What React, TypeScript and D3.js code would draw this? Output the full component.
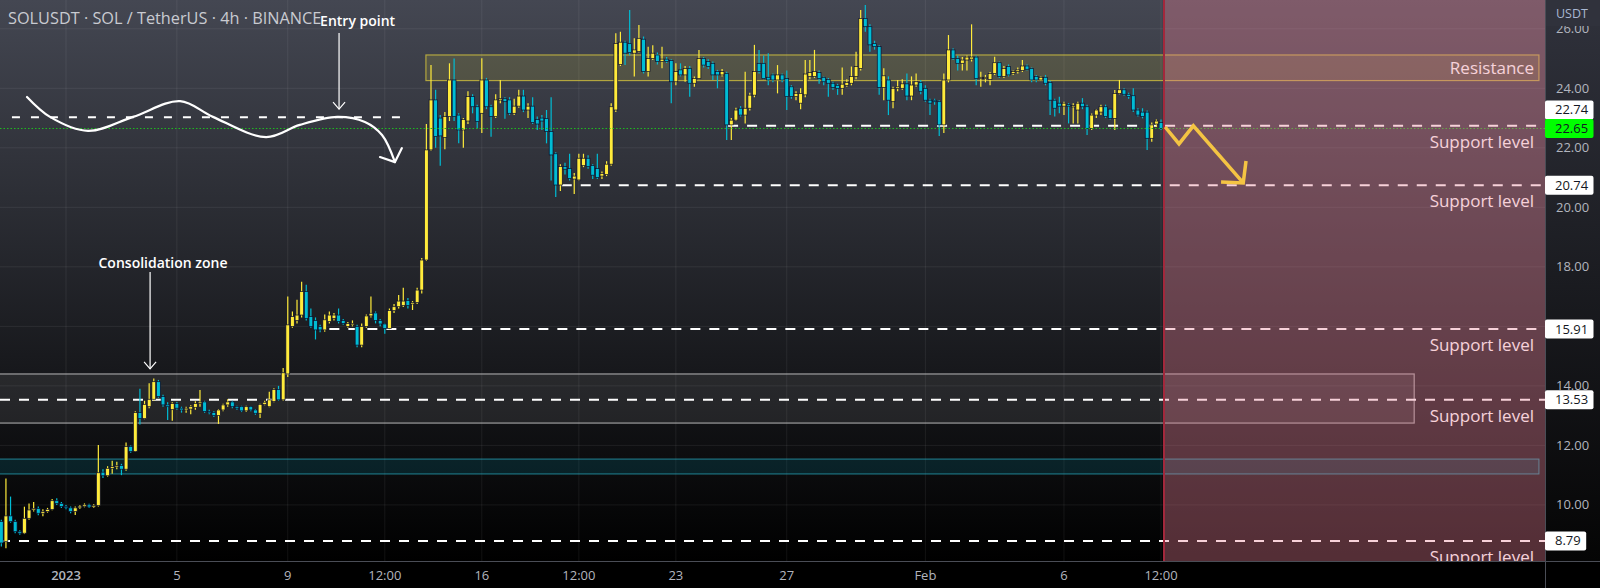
import React from 'react';
import * as d3 from 'd3';

type Bar = [number, number, number, number]; // open, high, low, close

// 4h candles, first bar opens 2022-12-29 16:00 UTC
const firstBarTime = Date.UTC(2022, 11, 29, 16);
const barMs = 4 * 3600 * 1000;

const barsDec29toJan4: Bar[] = [
  [9.44, 9.5, 8.6, 8.72], [8.77, 10.89, 8.54, 9.63], [9.63, 10.28, 9.4, 9.44], [9.44, 9.5, 9.05, 9.1],
  [9.1, 9.15, 9.0, 9.05], [9.05, 9.94, 9.02, 9.55], [9.55, 10.05, 9.5, 9.83], [9.83, 10.1, 9.78, 9.88],
  [9.88, 9.95, 9.65, 9.72], [9.72, 9.85, 9.62, 9.78], [9.78, 9.9, 9.74, 9.85], [9.85, 10.2, 9.82, 10.14],
  [10.14, 10.22, 10.0, 10.05], [10.05, 10.1, 9.9, 9.95], [9.95, 10.0, 9.85, 9.9], [9.9, 9.95, 9.72, 9.78],
  [9.78, 9.95, 9.66, 9.9], [9.9, 10.0, 9.86, 9.96], [9.96, 10.05, 9.92, 10.0], [10.0, 10.04, 9.9, 9.93],
  [9.93, 10.02, 9.9, 9.98], [9.98, 12.01, 9.95, 11.08], [11.1, 11.2, 10.9, 10.98], [10.98, 11.3, 10.95, 11.23],
  [11.23, 11.48, 11.05, 11.29], [11.29, 11.45, 11.2, 11.32], [11.32, 11.38, 11.0, 11.2], [11.2, 12.1, 11.15, 11.96],
  [11.96, 12.0, 11.75, 11.8], [11.8, 13.15, 11.78, 13.1], [13.1, 13.9, 12.7, 12.9], [12.9, 13.5, 12.88, 13.38],
  [13.3, 14.09, 13.25, 13.55], [13.55, 14.25, 13.5, 14.14], [14.14, 14.2, 13.6, 13.64], [13.64, 13.7, 13.3, 13.36],
  [13.36, 13.45, 12.85, 13.3], [13.2, 13.45, 12.83, 13.41],
];

const barsJan5toJan11: Bar[] = [
  [13.41, 13.46, 13.2, 13.25], [13.25, 13.3, 13.1, 13.19], [13.19, 13.3, 13.1, 13.25], [13.22, 13.35, 13.05, 13.3],
  [13.28, 13.48, 13.2, 13.41], [13.41, 13.86, 13.3, 13.46], [13.46, 13.5, 13.1, 13.14], [13.14, 13.2, 13.05, 13.1],
  [13.1, 13.15, 12.95, 13.0], [13.0, 13.22, 12.72, 13.19], [13.19, 13.4, 13.15, 13.36], [13.36, 13.55, 13.3, 13.46],
  [13.46, 13.5, 13.25, 13.3], [13.3, 13.33, 13.2, 13.25], [13.3, 13.33, 13.12, 13.16], [13.16, 13.33, 13.12, 13.3],
  [13.3, 13.32, 13.15, 13.19], [13.19, 13.22, 13.03, 13.08], [13.08, 13.4, 12.92, 13.38], [13.38, 13.5, 13.35, 13.45],
  [13.3, 13.8, 13.28, 13.53], [13.48, 13.92, 13.45, 13.88], [13.88, 14.0, 13.5, 13.53], [13.53, 14.6, 13.5, 14.44],
  [14.4, 17.0, 14.3, 16.05], [16.0, 16.5, 15.95, 16.33], [16.2, 16.89, 16.1, 16.38], [16.38, 17.5, 16.3, 17.17],
  [17.17, 17.4, 16.2, 16.27], [16.33, 16.6, 15.95, 15.99], [16.2, 16.3, 15.56, 15.88], [15.99, 16.05, 15.8, 15.88],
  [15.88, 16.4, 15.82, 16.22], [16.16, 16.5, 16.1, 16.38], [16.27, 16.45, 16.2, 16.38], [16.38, 16.6, 16.1, 16.16],
  [16.2, 16.25, 16.05, 16.1], [16.0, 16.15, 15.95, 16.1], [16.05, 16.2, 16.0, 16.1], [16.0, 16.05, 15.3, 15.37],
  [15.37, 16.1, 15.3, 16.0], [16.0, 16.4, 15.95, 16.35],
];

const barsJan12toJan18: Bar[] = [
  [16.35, 17.0, 16.3, 16.44], [16.45, 16.5, 16.1, 16.2], [16.2, 16.25, 16.0, 16.08], [16.08, 16.1, 15.75, 15.93],
  [15.93, 16.6, 15.9, 16.53], [16.53, 16.75, 16.45, 16.66], [16.66, 17.05, 16.6, 16.85], [16.7, 17.3, 16.65, 16.85],
  [16.87, 16.95, 16.6, 16.7], [16.75, 16.85, 16.55, 16.8], [16.8, 17.3, 16.75, 17.22], [17.22, 18.3, 17.1, 18.23],
  [18.23, 22.8, 18.2, 21.93], [21.93, 24.78, 21.9, 23.61], [23.61, 23.95, 22.0, 22.38], [23.0, 23.1, 21.4, 22.4],
  [22.35, 23.2, 21.95, 23.05], [23.05, 24.84, 22.9, 24.28], [24.28, 25.0, 22.9, 23.05], [23.1, 23.16, 22.15, 22.6],
  [22.6, 23.0, 22.0, 22.95], [22.9, 23.9, 22.8, 23.72], [23.72, 23.8, 23.16, 23.38], [23.38, 23.45, 22.65, 22.88],
  [23.16, 25.01, 22.5, 24.28], [24.28, 24.35, 23.3, 23.38], [23.38, 23.45, 22.37, 23.05], [23.05, 23.8, 23.0, 23.61],
  [23.61, 24.28, 23.5, 23.65], [23.65, 23.7, 22.98, 23.55], [23.61, 23.7, 23.1, 23.16], [23.16, 23.65, 23.1, 23.4],
  [23.4, 23.95, 23.35, 23.74], [23.74, 23.95, 23.2, 23.27], [23.27, 23.5, 23.0, 23.4], [23.4, 23.7, 22.8, 22.85],
  [22.95, 23.05, 22.6, 22.8], [23.0, 23.1, 22.6, 22.9], [22.98, 23.27, 22.15, 22.55], [22.55, 23.7, 20.9, 21.76],
  [21.8, 21.85, 20.35, 20.75], [20.75, 21.45, 20.55, 21.37],
];

const barsJan19toJan25: Bar[] = [
  [21.37, 21.5, 21.1, 21.28], [21.3, 21.8, 20.9, 20.97], [20.95, 21.15, 20.45, 21.05], [20.92, 21.8, 20.9, 21.65],
  [21.4, 21.8, 21.35, 21.65], [21.65, 21.75, 21.3, 21.37], [21.4, 21.45, 20.95, 21.08], [21.3, 21.8, 20.95, 21.0],
  [21.05, 21.2, 20.95, 21.14], [21.1, 21.55, 21.05, 21.45], [21.45, 23.5, 21.4, 23.38], [23.27, 25.85, 23.2, 25.51],
  [24.8, 25.9, 24.75, 25.55], [25.55, 25.6, 24.78, 25.18], [25.5, 26.63, 25.1, 25.2], [25.18, 25.68, 24.4, 25.29],
  [25.24, 26.13, 25.2, 25.68], [25.65, 25.74, 24.5, 24.56], [24.56, 25.4, 24.4, 25.0], [25.0, 25.45, 24.95, 25.18],
  [25.12, 25.2, 24.8, 24.9], [24.9, 25.4, 24.67, 24.98], [24.98, 25.05, 24.85, 24.9], [24.93, 24.98, 23.5, 24.22],
  [24.22, 24.84, 24.1, 24.56], [24.62, 24.84, 24.4, 24.45], [24.45, 24.75, 24.22, 24.67], [24.67, 24.75, 23.72, 24.17],
  [24.17, 24.4, 24.05, 24.33], [24.33, 25.29, 24.3, 25.0], [25.0, 25.05, 24.7, 24.78], [24.9, 24.98, 24.65, 24.73],
  [24.84, 24.9, 24.28, 24.45], [24.56, 24.62, 24.0, 24.45], [24.45, 24.65, 24.4, 24.56], [24.5, 24.56, 22.26, 22.77],
  [22.77, 23.0, 22.26, 22.93], [22.93, 23.35, 22.9, 23.27], [23.33, 23.4, 23.05, 23.1], [23.1, 24.56, 22.82, 23.33],
  [23.33, 23.85, 23.25, 23.77], [23.77, 25.46, 23.7, 24.56],
];

const barsJan26toFeb1: Bar[] = [
  [24.84, 25.29, 24.5, 24.56], [24.84, 25.1, 24.3, 24.33], [24.37, 25.18, 24.1, 24.28], [24.45, 24.5, 24.2, 24.28],
  [24.28, 24.78, 23.83, 24.45], [24.45, 24.5, 24.2, 24.28], [24.33, 24.6, 23.27, 23.72], [24.05, 24.1, 23.65, 23.72],
  [23.72, 23.9, 23.6, 23.83], [23.5, 24.0, 23.3, 23.83], [23.78, 24.95, 23.7, 24.48], [24.4, 24.95, 24.3, 24.53],
  [24.4, 25.29, 24.35, 24.56], [24.53, 24.6, 24.15, 24.33], [24.37, 24.4, 24.1, 24.22], [24.3, 24.35, 23.72, 24.17],
  [24.17, 24.22, 23.95, 24.03], [24.1, 24.15, 23.78, 24.0], [24.0, 24.7, 23.78, 24.14], [24.1, 24.3, 24.05, 24.2],
  [24.17, 24.73, 24.1, 24.4], [24.4, 25.23, 24.3, 24.73], [24.67, 26.63, 24.6, 26.35], [26.35, 26.8, 25.9, 26.07],
  [26.07, 26.15, 25.23, 25.46], [25.5, 25.6, 25.3, 25.4], [25.4, 25.45, 23.78, 24.03], [24.03, 24.67, 23.6, 24.42],
  [24.28, 24.4, 23.1, 23.6], [23.55, 24.05, 23.33, 24.0], [24.0, 24.28, 23.9, 24.05], [24.0, 24.3, 23.95, 24.15],
  [24.15, 24.5, 23.6, 23.74], [23.74, 24.4, 23.6, 24.11], [24.11, 24.5, 24.05, 24.22], [24.2, 24.28, 23.8, 23.9],
  [24.0, 24.1, 23.55, 23.6], [23.6, 23.65, 23.1, 23.5], [23.6, 23.65, 23.45, 23.55], [23.55, 23.6, 22.4, 22.77],
  [22.77, 24.5, 22.5, 24.28], [24.28, 25.79, 24.2, 25.29],
];

const barsFeb2toFeb9: Bar[] = [
  [25.29, 25.35, 24.95, 25.0], [25.0, 25.1, 24.6, 24.84], [24.84, 25.05, 24.6, 24.95], [24.95, 25.1, 24.6, 25.05],
  [24.98, 26.15, 24.9, 25.05], [25.05, 25.1, 24.1, 24.33], [24.33, 24.56, 24.05, 24.37], [24.33, 24.45, 24.2, 24.37],
  [24.3, 24.55, 24.1, 24.5], [24.5, 25.06, 24.45, 24.86], [24.86, 24.9, 24.35, 24.4], [24.4, 24.75, 24.35, 24.67],
  [24.73, 24.8, 24.4, 24.45], [24.5, 24.6, 24.45, 24.56], [24.56, 24.7, 24.5, 24.62], [24.6, 24.95, 24.55, 24.75],
  [24.75, 24.8, 24.6, 24.64], [24.67, 24.7, 24.2, 24.28], [24.4, 24.45, 24.2, 24.28], [24.28, 24.4, 24.25, 24.37],
  [24.37, 24.45, 24.1, 24.17], [24.2, 24.25, 23.1, 23.6], [23.6, 23.65, 23.05, 23.33], [23.5, 23.72, 23.16, 23.4],
  [23.4, 23.55, 23.1, 23.5], [23.45, 23.5, 22.82, 23.4], [23.38, 23.5, 22.82, 23.42], [23.27, 23.55, 22.82, 23.5],
  [23.5, 23.67, 23.3, 23.38], [23.38, 23.45, 22.43, 22.65], [22.65, 23.15, 22.6, 23.1], [23.1, 23.3, 23.0, 23.27],
  [23.2, 23.45, 23.1, 23.38], [23.38, 23.45, 23.0, 23.05], [23.3, 23.3, 22.95, 22.99], [22.99, 23.94, 22.6, 23.83],
  [23.83, 24.28, 23.8, 23.95], [23.95, 24.0, 23.75, 23.8], [23.8, 23.85, 23.65, 23.72], [23.75, 24.0, 23.2, 23.27],
  [23.27, 23.33, 23.05, 23.1], [23.2, 23.33, 22.99, 23.05], [23.2, 23.25, 21.93, 22.32], [22.32, 22.85, 22.2, 22.77],
  [22.8, 22.95, 22.7, 22.9], [22.85, 22.95, 22.6, 22.65],
];

const priceTicks = [10, 12, 14, 16, 18, 20, 22, 24, 26];
const timeTicks: { t: number; label: string; bold?: boolean }[] = [
  { t: Date.UTC(2023, 0, 1), label: '2023', bold: true },
  { t: Date.UTC(2023, 0, 5), label: '5' },
  { t: Date.UTC(2023, 0, 9), label: '9' },
  { t: Date.UTC(2023, 0, 12, 12), label: '12:00' },
  { t: Date.UTC(2023, 0, 16), label: '16' },
  { t: Date.UTC(2023, 0, 19, 12), label: '12:00' },
  { t: Date.UTC(2023, 0, 23), label: '23' },
  { t: Date.UTC(2023, 0, 27), label: '27' },
  { t: Date.UTC(2023, 1, 1), label: 'Feb' },
  { t: Date.UTC(2023, 1, 6), label: '6' },
  { t: Date.UTC(2023, 1, 9, 12), label: '12:00' },
];

// support levels: price and bar index where the drawn line starts
const supportLevels = [
  { price: 22.74, fromBar: 157.3 },
  { price: 20.74, fromBar: 121.3 },
  { price: 15.91, fromBar: 71 },
  { price: 13.53, fromBar: -1 },
  { price: 8.79, fromBar: -1 },
];
const lastPrice = 22.65;
const entryLevel = { price: 23.03, fromBar: 2.3, toBar: 88 };
const resistanceZone = { low: 24.26, high: 25.12, fromBar: 91.9, toBar: 332.8 };
const consolidationZone = { low: 12.75, high: 14.4, fromBar: -0.5, toBar: 305.8 };
const cyanZone = { low: 11.04, high: 11.54, fromBar: -0.5, toBar: 332.8 };
const forecastStartBar = 251.65;

// hand-drawn annotations, in (bar index, price)
const waveCurve: [number, number][] = [
  [5.56, 23.71], [10.54, 23.04], [18.76, 22.57], [28.5, 23.04], [38.7, 23.57], [45.8, 23.04],
  [57.3, 22.36], [64.6, 22.77], [72.7, 23.04], [78.7, 22.87], [82.4, 22.43], [85.2, 21.52],
];
const waveHead: [number, number][] = [[81.96, 21.69], [85.2, 21.52], [86.7, 21.99]];
const zigzag: [number, number][] = [[251.9, 22.7], [254.9, 22.13], [258.0, 22.74], [268.8, 20.82]];
const zigzagHead: [number, number][] = [[264.0, 20.85], [268.8, 20.82], [269.4, 21.56]];
const entryArrow = { bar: 73.1, from: 25.86, to: 23.3, textBar: 69, textPrice: 26.09 };
const consArrow = { bar: 32.2, from: 17.83, to: 14.57, textBar: 35, textPrice: 17.96 };

const bars: Bar[] = [
  ...barsDec29toJan4, ...barsJan5toJan11, ...barsJan12toJan18,
  ...barsJan19toJan25, ...barsJan26toFeb1, ...barsFeb2toFeb9,
];

const W = 1600;
const H = 588;
const PR = 1545; // plot right
const PB = 561; // plot bottom
const UP = '#ffeb3b';
const DOWN = '#00bcd4';
const FONT = "'Open Sans', 'Noto Sans', sans-serif";

export default function App() {
  React.useEffect(() => {
    document.body.style.margin = '0';
  }, []);

  const x = d3.scaleUtc().domain([Date.UTC(2023, 0, 1), Date.UTC(2023, 1, 9, 12)]).range([66, 1161]);
  const y = d3.scaleLinear().domain([10, 24]).range([504.9, 88.3]);
  const bx = (k: number) => x(firstBarTime + k * barMs);

  const line = d3.line<[number, number]>().x(d => bx(d[0])).y(d => y(d[1]));
  const curveLine = d3.line<[number, number]>().x(d => bx(d[0])).y(d => y(d[1])).curve(d3.curveCatmullRom.alpha(0.5));

  const bodyW = 3.8;

  const zoneRect = (z: { low: number; high: number; fromBar: number; toBar: number }) => ({
    x: bx(z.fromBar), y: y(z.high), w: bx(z.toBar) - bx(z.fromBar), h: y(z.low) - y(z.high),
  });
  const rz = zoneRect(resistanceZone);
  const cz = zoneRect(consolidationZone);
  const tz = zoneRect(cyanZone);

  const arrowHead = (xp: number, yp: number) => `M${xp - 6},${yp - 7}L${xp},${yp}L${xp + 6},${yp - 7}`;

  const labelBox = (val: number, cy: number, fill: string) => {
    const txt = val.toFixed(2);
    const w = txt.length * 7.3 + 12;
    return (
      <g key={'lb' + val}>
        <rect x={1545} y={cy - 9.5} width={w} height={19} rx={2} fill={fill} />
        <text x={1555} y={cy + 4.5} fontSize={13} fill="#131722" fontFamily={FONT}>{txt}</text>
      </g>
    );
  };

  const greenY = y(lastPrice);

  return (
    <svg width={W} height={H} style={{ display: 'block', position: 'absolute', left: 0, top: 0 }} fontFamily={FONT}>
      <defs>
        <linearGradient id="bgGrad" x1="0" y1="0" x2="0" y2="1">
          <stop offset="0" stopColor="#444752" />
          <stop offset="1" stopColor="#000000" />
        </linearGradient>
        <linearGradient id="axGrad" x1="0" y1="0" x2="0" y2="1">
          <stop offset="0" stopColor="#30323c" />
          <stop offset="1" stopColor="#050505" />
        </linearGradient>
        <clipPath id="plotClip">
          <rect x={0} y={0} width={PR} height={PB} />
        </clipPath>
      </defs>

      <rect x={0} y={0} width={W} height={H} fill="#000" />
      <rect x={0} y={0} width={PR} height={PB} fill="url(#bgGrad)" />
      <rect x={PR} y={0} width={W - PR} height={PB} fill="url(#axGrad)" />

      <g clipPath="url(#plotClip)">
        {/* grid */}
        {priceTicks.map(p => (
          <line key={'hg' + p} x1={0} x2={PR} y1={y(p)} y2={y(p)} stroke="rgba(255,255,255,0.07)" strokeWidth={1} />
        ))}
        {timeTicks.map((t, i) => (
          <line key={'vg' + i} x1={x(t.t)} x2={x(t.t)} y1={0} y2={PB} stroke="rgba(255,255,255,0.07)" strokeWidth={1} />
        ))}

        {/* zones */}
        <rect x={tz.x} y={tz.y} width={tz.w} height={tz.h} fill="rgba(0,170,200,0.14)" stroke="rgba(40,170,190,0.75)" strokeWidth={1} />
        <rect x={cz.x} y={cz.y} width={cz.w} height={cz.h} fill="rgba(255,255,255,0.08)" stroke="rgba(200,200,200,0.75)" strokeWidth={1.2} />
        <rect x={rz.x} y={rz.y} width={rz.w} height={rz.h} fill="rgba(255,235,59,0.12)" stroke="rgba(214,196,62,0.75)" strokeWidth={1.2} />

        {/* support level lines */}
        {supportLevels.map(l => (
          <line key={'sl' + l.price} x1={Math.max(0, bx(l.fromBar))} x2={PR} y1={y(l.price)} y2={y(l.price)}
            stroke="#ffffff" strokeWidth={2} strokeDasharray="10,9" />
        ))}
        <line x1={bx(entryLevel.fromBar)} x2={bx(entryLevel.toBar)} y1={y(entryLevel.price)} y2={y(entryLevel.price)}
          stroke="#ffffff" strokeWidth={2} strokeDasharray="8,11" />

        {/* candles */}
        {bars.map((b, k) => {
          const [o, h, l, c] = b;
          const cx = bx(k);
          const col = c >= o ? UP : DOWN;
          const top = y(Math.max(o, c));
          const bh = Math.max(1.4, y(Math.min(o, c)) - top);
          return (
            <g key={'c' + k}>
              <line x1={cx} x2={cx} y1={y(h)} y2={y(l)} stroke={col} strokeWidth={1.2} />
              <rect x={cx - bodyW / 2} y={top} width={bodyW} height={bh} fill={col} stroke="#0c0e2c" strokeWidth={0.7} />
            </g>
          );
        })}

        {/* last price line */}
        <line x1={0} x2={PR} y1={greenY} y2={greenY} stroke="#1fbf1f" strokeWidth={1} strokeDasharray="1.5,2" />

        {/* annotations */}
        <path d={curveLine(waveCurve) || ''} fill="none" stroke="#ffffff" strokeWidth={2.2} strokeLinecap="round" />
        <path d={line(waveHead) || ''} fill="none" stroke="#ffffff" strokeWidth={2.2} strokeLinecap="round" strokeLinejoin="round" />

        <line x1={bx(entryArrow.bar)} x2={bx(entryArrow.bar)} y1={y(entryArrow.from)} y2={y(entryArrow.to)} stroke="#fff" strokeWidth={1.2} />
        <path d={arrowHead(bx(entryArrow.bar), y(entryArrow.to))} fill="none" stroke="#fff" strokeWidth={1.2} />
        <text x={bx(entryArrow.textBar)} y={y(entryArrow.textPrice)} fontSize={14} fontWeight={600} fill="#ffffff">Entry point</text>

        <line x1={bx(consArrow.bar)} x2={bx(consArrow.bar)} y1={y(consArrow.from)} y2={y(consArrow.to)} stroke="#fff" strokeWidth={1.2} />
        <path d={arrowHead(bx(consArrow.bar), y(consArrow.to))} fill="none" stroke="#fff" strokeWidth={1.2} />
        <text x={bx(consArrow.textBar)} y={y(consArrow.textPrice)} fontSize={14} fontWeight={600} fill="#ffffff" textAnchor="middle">Consolidation zone</text>

        {/* level texts */}
        <text x={1534} y={y((resistanceZone.low + resistanceZone.high) / 2) + 6} fontSize={17} fill="#ffffff" textAnchor="end">Resistance</text>
        {supportLevels.map(l => (
          <text key={'st' + l.price} x={1534} y={y(l.price) + 22} fontSize={17} fill="#ffffff" textAnchor="end">Support level</text>
        ))}

        {/* forecast region */}
        <rect x={bx(forecastStartBar)} y={0} width={PR - bx(forecastStartBar)} height={PB} fill="rgba(232,128,150,0.36)" />
        <line x1={bx(forecastStartBar)} x2={bx(forecastStartBar)} y1={0} y2={PB} stroke="#a3283c" strokeWidth={2} />

        <path d={line(zigzag) || ''} fill="none" stroke="#f4c443" strokeWidth={3.5} strokeLinejoin="miter" />
        <path d={line(zigzagHead) || ''} fill="none" stroke="#f4c443" strokeWidth={3.5} strokeLinejoin="miter" />
      </g>

      {/* title */}
      <text x={8} y={24} fontSize={16.3} fill="#c9cbd1">SOLUSDT · SOL / TetherUS · 4h · BINANCE</text>

      {/* axis borders */}
      <line x1={PR + 0.5} x2={PR + 0.5} y1={0} y2={H} stroke="#4a4d56" strokeWidth={1} />
      <line x1={0} x2={W} y1={PB + 0.5} y2={PB + 0.5} stroke="#4a4d56" strokeWidth={1} />

      {/* price axis */}
      {priceTicks.map(p => (
        <text key={'pt' + p} x={1556} y={y(p) + 4.5} fontSize={13} fill="#b2b5be">{p.toFixed(2)}</text>
      ))}
      <rect x={PR + 1} y={0} width={W - PR - 1} height={26} fill="#30323c" />
      <text x={1556} y={18} fontSize={12.5} fill="#a9b8d3">USDT</text>

      {labelBox(22.74, greenY - 18.5, '#ffffff')}
      {labelBox(lastPrice, greenY, '#00ff00')}
      {labelBox(20.74, y(20.74), '#ffffff')}
      {labelBox(15.91, y(15.91), '#ffffff')}
      {labelBox(13.53, y(13.53), '#ffffff')}
      {labelBox(8.79, y(8.79), '#ffffff')}

      {/* time axis */}
      {timeTicks.map((t, i) => (
        <text key={'tt' + i} x={x(t.t)} y={580} fontSize={13} fill="#b2b5be" textAnchor="middle" fontWeight={t.bold ? 600 : 400}>{t.label}</text>
      ))}
    </svg>
  );
}
